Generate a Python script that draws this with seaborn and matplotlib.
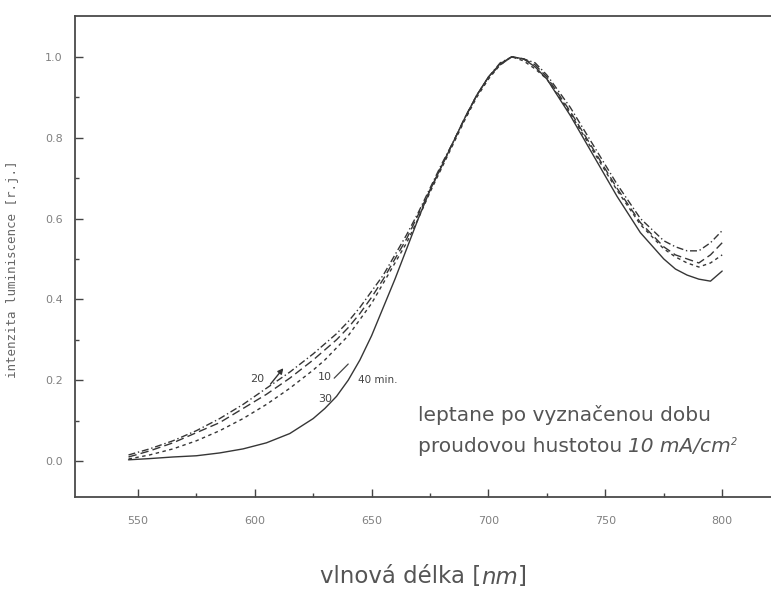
import numpy as np
import pandas as pd
import seaborn as sns
import matplotlib
matplotlib.use("Agg")
import matplotlib.pyplot as plt
from matplotlib.ticker import FixedLocator

# wavelength grid [nm]
wavelength = [546, 555, 565, 575, 585, 595, 605, 615, 625, 630, 635, 640, 645,
              650, 655, 660, 665, 670, 675, 680, 685, 690, 695, 700, 705, 710,
              715, 720, 725, 735, 745, 755, 765, 775, 780, 785, 790, 795, 800]

# normalised luminescence after etching for the given time
lum_10 = [0.010, 0.025, 0.045, 0.070, 0.095, 0.130, 0.165, 0.205, 0.250, 0.275,
          0.300, 0.330, 0.365, 0.405, 0.450, 0.500, 0.550, 0.610, 0.670, 0.730,
          0.790, 0.850, 0.905, 0.950, 0.980, 1.000, 0.995, 0.980, 0.950, 0.865,
          0.770, 0.675, 0.590, 0.530, 0.510, 0.500, 0.490, 0.510, 0.540]
lum_20 = [0.015, 0.030, 0.050, 0.075, 0.105, 0.140, 0.180, 0.220, 0.265, 0.290,
          0.315, 0.345, 0.380, 0.420, 0.460, 0.510, 0.560, 0.615, 0.675, 0.735,
          0.790, 0.850, 0.905, 0.950, 0.985, 1.000, 0.995, 0.985, 0.955, 0.875,
          0.780, 0.685, 0.600, 0.545, 0.530, 0.520, 0.520, 0.540, 0.570]
lum_30 = [0.005, 0.015, 0.030, 0.050, 0.075, 0.105, 0.140, 0.180, 0.225, 0.250,
          0.280, 0.310, 0.350, 0.390, 0.440, 0.490, 0.540, 0.600, 0.665, 0.725,
          0.785, 0.845, 0.900, 0.945, 0.980, 1.000, 0.990, 0.970, 0.945, 0.860,
          0.765, 0.670, 0.585, 0.525, 0.505, 0.490, 0.480, 0.490, 0.510]
lum_40 = [0.003, 0.006, 0.010, 0.013, 0.020, 0.030, 0.045, 0.068, 0.105, 0.130,
          0.160, 0.200, 0.250, 0.310, 0.380, 0.450, 0.525, 0.600, 0.670, 0.730,
          0.790, 0.850, 0.905, 0.950, 0.983, 1.000, 0.995, 0.975, 0.945, 0.855,
          0.755, 0.655, 0.565, 0.500, 0.475, 0.460, 0.450, 0.445, 0.470]

series_names = ["10", "20", "30", "40 min."]
x_ticks = [550, 600, 650, 700, 750, 800]
y_ticks = [0.0, 0.2, 0.4, 0.6, 0.8, 1.0]

df = pd.DataFrame({
    "wavelength": wavelength * 4,
    "lum": lum_10 + lum_20 + lum_30 + lum_40,
    "time": sum([[n] * len(wavelength) for n in series_names], []),
})

sns.set_theme(style="white")
plt.rcParams["font.family"] = ["DejaVu Sans"]

fig = plt.figure(figsize=(7.71, 5.97), dpi=100)
ax = fig.add_axes([75 / 771, 1 - 497 / 597, 725 / 771, 481 / 597])

line_col = "#363636"
dashes = {"10": (6, 3), "20": (5, 2, 1, 2), "30": (2.5, 2.5), "40 min.": ""}
sns.lineplot(data=df, x="wavelength", y="lum", hue="time", style="time",
             dashes=dashes, palette=[line_col] * 4, linewidth=1.0,
             legend=False, ax=ax)

ax.set_xlim(523.1, 833.3)
ax.set_ylim(-0.089, 1.101)
ax.set_xticks(x_ticks)
ax.set_xticklabels([str(v) for v in x_ticks])
ax.set_yticks(y_ticks)
ax.set_yticklabels([f"{v:.1f}" for v in y_ticks])
ax.xaxis.set_minor_locator(FixedLocator([575, 625, 675, 725, 775]))
ax.yaxis.set_minor_locator(FixedLocator([0.1, 0.3, 0.5, 0.7, 0.9]))
ax.tick_params(which="major", direction="in", length=6, width=1.0,
               color="#444444", labelsize=8, labelcolor="#808080")
ax.tick_params(which="minor", direction="in", length=3, width=1.0,
               color="#444444")
ax.tick_params(axis="x", which="major", pad=14)
ax.tick_params(axis="y", which="major", pad=9)
ax.tick_params(bottom=True, left=True, which="both")
for side in ["left", "bottom", "top"]:
    ax.spines[side].set_visible(True)
    ax.spines[side].set_color("#4a4a4a")
    ax.spines[side].set_linewidth(1.3)
ax.spines["right"].set_visible(False)
ax.set_xlabel("")
ax.set_ylabel("")

lab_col = "#444444"
# curve labels
ax.text(627, 0.207, "10", fontsize=8, color=lab_col, ha="left", va="center")
ax.text(598, 0.203, "20", fontsize=8, color=lab_col, ha="left", va="center")
ax.text(627, 0.153, "30", fontsize=8, color=lab_col, ha="left", va="center")
ax.text(644, 0.200, "40 min.", fontsize=7.5, color=lab_col, ha="left", va="center")
ax.annotate("", xy=(613, 0.235), xytext=(606, 0.185),
            arrowprops=dict(arrowstyle="-|>", color="#333333", lw=1.0,
                            mutation_scale=8))
ax.plot([634, 640], [0.205, 0.24], color=lab_col, lw=0.9)

# note about the etching
txt_col = "#555555"
t1 = ax.text(669.7, 0.114, "leptane po vyznačenou dobu", fontsize=14.5,
             color=txt_col, ha="left", va="center")
t2 = ax.text(669.7, 0.035, "proudovou hustotou ", fontsize=14.5,
             color=txt_col, ha="left", va="center")
t3 = ax.annotate("10 mA/cm", xy=(1, 0), xycoords=t2, fontsize=14.5,
                 fontstyle="italic", color=txt_col, ha="left", va="bottom")
ax.annotate("2", xy=(1, 0.75), xycoords=t3, fontsize=7,
            fontstyle="italic", color=txt_col, ha="left", va="center")

# axis titles
xl = fig.text(0.415, 1 - 577 / 597, "vlnová délka [", fontsize=16.5,
              color="#555555", ha="left", va="center")
xl2 = ax.annotate("nm", xy=(1, 0), xycoords=xl, fontsize=16.5,
                  fontstyle="italic", color="#555555", ha="left", va="bottom")
ax.annotate("]", xy=(1, 0), xycoords=xl2, fontsize=16.5,
            color="#555555", ha="left", va="bottom")
fig.text(0.0156, 1 - 269 / 597, "intenzita luminiscence [r.j.]", fontsize=9,
         family="DejaVu Sans Mono", color="#666666", rotation=90,
         ha="center", va="center")

fig.savefig("out.png", dpi=100)
